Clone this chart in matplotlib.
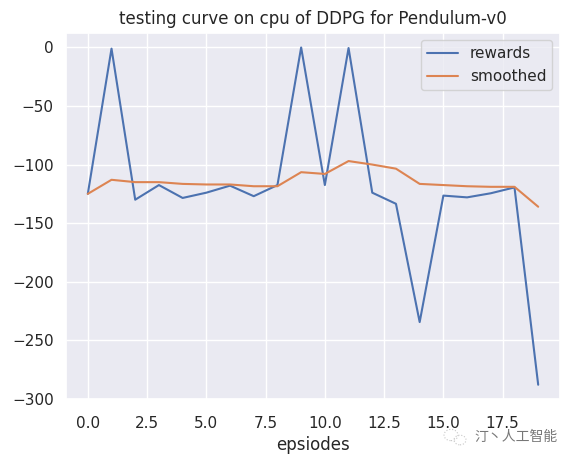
import matplotlib
matplotlib.use("Agg")
import matplotlib.pyplot as plt
from matplotlib.patches import Circle
import seaborn as sns

episodes = list(range(20))
rewards = [-125, -1, -130, -117.5, -128.5, -124, -118, -127, -117.5, 0,
           -117.5, -0.5, -124, -133.5, -234.5, -126.5, -128, -124.5, -119.5, -288]
smoothed = [-125, -113, -115, -115, -116.5, -117, -117, -118.5, -118.5, -106.5,
            -108, -97, -100, -103.5, -116.5, -117.5, -118.5, -119, -119, -136]
watermark = "\u6c40\u4e36\u4eba\u5de5\u667a\u80fd"

sns.set_theme()
plt.rcParams['font.family'] = ['DejaVu Sans', 'Noto Sans CJK SC']

W, H = 576, 463
fig = plt.figure(figsize=(W / 100, H / 100), dpi=100)
ax = fig.add_axes([66 / W, 1 - 398.8 / H, 494 / W, 366.1 / H])
ax.plot(episodes, rewards, label="rewards")
ax.plot(episodes, smoothed, label="smoothed")
ax.set_xlim(-0.92, 19.92)
ax.set_ylim(-300, 12.6)
ax.set_title("testing curve on cpu of DDPG for Pendulum-v0", fontsize=12)
ax.set_xlabel("epsiodes", fontsize=12, labelpad=3.3)
ax.tick_params(labelsize=11)
ax.tick_params(axis="x", pad=6.4)
ax.tick_params(axis="y", pad=2.8)
ax.legend(loc="upper right", fontsize=11)

# wechat style mark under the axis
for cx, cy, r in [(451, 435, 7), (460, 440, 6)]:
    fig.add_artist(Circle((cx / W, 1 - cy / H), r / W, transform=fig.transFigure,
                          fill=False, ec="#c8c8c8", lw=0.8, ls=":"))
fig.text(474 / W, 1 - 437 / H, watermark, fontsize=10, color="#777777",
         family=['Noto Sans CJK SC', 'DejaVu Sans'], va="center")
fig.savefig("out.png", dpi=100)
